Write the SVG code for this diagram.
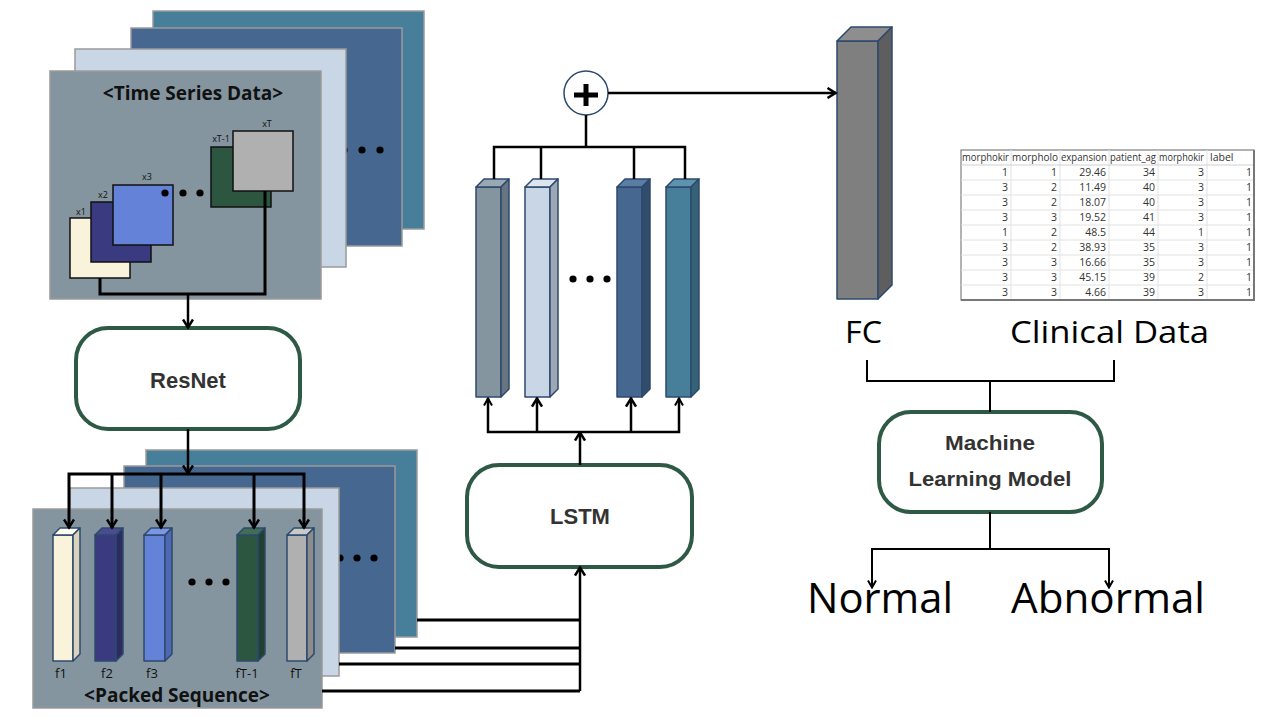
<svg xmlns="http://www.w3.org/2000/svg" width="1277" height="718" viewBox="0 0 1277 718">
<style>
.layer{stroke:#9a9a9a;stroke-width:1.5}
.sq{stroke:#111;stroke-width:1.5}
.bar{stroke:#2C4A6E;stroke-width:1.5;stroke-linejoin:round}
.box{fill:#fff;stroke:#2E5A45;stroke-width:4}
.lbl{font-family:"Liberation Sans",Arial,sans-serif;font-weight:700;fill:#333;text-anchor:middle}
.title{font-family:"Open Sans","Noto Sans",sans-serif;font-weight:700;font-size:19px;fill:#111;text-anchor:middle}
.small{font-family:"Open Sans","Noto Sans",sans-serif;font-size:9px;fill:#111;text-anchor:middle}
.flbl{font-family:"Open Sans","Noto Sans",sans-serif;font-size:13px;fill:#111;text-anchor:middle}
.big{font-family:"Open Sans","Noto Sans",sans-serif;fill:#000}
.c3{fill:none;stroke:#000;stroke-width:3}
.c2{fill:none;stroke:#000;stroke-width:2.5}
.c1{fill:none;stroke:#000;stroke-width:2}
.tb{font-family:"Open Sans","Noto Sans",sans-serif;font-size:10.5px;fill:#333}
.tr{text-anchor:end}
.grid{stroke:#e2e2e2;stroke-width:1}
.dot{fill:#000}
</style>
<defs>
<marker id="a3" viewBox="0 0 12 12" markerUnits="userSpaceOnUse" markerWidth="12" markerHeight="12" refX="10.5" refY="6" orient="auto-start-reverse"><path d="M2,1 L10,6 L2,11" fill="none" stroke="#000" stroke-width="2.5"/></marker>
<marker id="a2" viewBox="0 0 10 10" markerUnits="userSpaceOnUse" markerWidth="10" markerHeight="10" refX="9" refY="5" orient="auto-start-reverse"><path d="M1.5,1 L8.5,5 L1.5,9" fill="none" stroke="#000" stroke-width="2"/></marker>
</defs>

<g id="time-series-stack">
<rect class="layer" x="153" y="11" width="271" height="218" fill="#477F9A"/>
<rect class="layer" x="131" y="28" width="271" height="218" fill="#466890"/>
<circle class="dot" cx="344" cy="150" r="3.6"/><circle class="dot" cx="362" cy="150" r="3.6"/><circle class="dot" cx="380" cy="150" r="3.6"/>
<rect class="layer" x="75" y="49" width="271" height="218" fill="#C9D6E6"/>
<rect class="layer" x="50" y="71" width="271" height="228" fill="#85959F"/>
<text class="title" x="193" y="100">&lt;Time Series Data&gt;</text>
<rect class="sq" x="70" y="218" width="60" height="60" fill="#FAF3DC"/>
<rect class="sq" x="91" y="202" width="60" height="60" fill="#3A3A80"/>
<rect class="sq" x="113" y="185" width="60" height="60" fill="#6482D8"/>
<rect class="sq" x="211" y="147" width="60" height="60" fill="#2D5641"/>
<rect class="sq" x="233" y="131" width="60" height="60" fill="#B0B0B0"/>
<text class="small" x="81" y="215">x1</text>
<text class="small" x="103" y="198">x2</text>
<text class="small" x="147" y="180">x3</text>
<text class="small" x="221" y="142">xT-1</text>
<text class="small" x="267" y="127">xT</text>
<circle class="dot" cx="165" cy="193" r="3.6"/><circle class="dot" cx="183" cy="193" r="3.6"/><circle class="dot" cx="200" cy="193" r="3.6"/>
</g>

<g id="packed-sequence-stack">
<rect class="layer" x="146" y="450" width="271" height="187" fill="#477F9A"/>
<rect class="layer" x="124" y="466" width="271" height="187" fill="#466890"/>
<circle class="dot" cx="340" cy="558" r="3.6"/><circle class="dot" cx="357" cy="558" r="3.6"/><circle class="dot" cx="374" cy="558" r="3.6"/>
<rect class="layer" x="70" y="488" width="269" height="188" fill="#C9D6E6"/>
<rect class="layer" x="33" y="509" width="289" height="199" fill="#85959F"/>
<g id="f1">
<rect class="bar" x="53" y="535" width="20" height="126" fill="#FAF3DC"/>
<path class="bar" d="M53,535 L60,528 L80,528 L73,535 Z" fill="#FFFBEE"/>
<path class="bar" d="M73,535 L80,528 L80,654 L73,661 Z" fill="#D9D2BC"/>
</g>
<g id="f2">
<rect class="bar" x="95" y="535" width="21" height="126" fill="#3A3A80"/>
<path class="bar" d="M95,535 L102,528 L123,528 L116,535 Z" fill="#4B4B92"/>
<path class="bar" d="M116,535 L123,528 L123,654 L116,661 Z" fill="#2C2C62"/>
</g>
<g id="f3">
<rect class="bar" x="144" y="535" width="21" height="126" fill="#6482D8"/>
<path class="bar" d="M144,535 L151,528 L172,528 L165,535 Z" fill="#7B97E3"/>
<path class="bar" d="M165,535 L172,528 L172,654 L165,661 Z" fill="#4E68B4"/>
</g>
<g id="fT-1">
<rect class="bar" x="237" y="535" width="21" height="126" fill="#2D5641"/>
<path class="bar" d="M237,535 L244,528 L265,528 L258,535 Z" fill="#416D57"/>
<path class="bar" d="M258,535 L265,528 L265,654 L258,661 Z" fill="#21402F"/>
</g>
<g id="fT">
<rect class="bar" x="287" y="535" width="20" height="126" fill="#B0B0B0"/>
<path class="bar" d="M287,535 L294,528 L314,528 L307,535 Z" fill="#C9C9C9"/>
<path class="bar" d="M307,535 L314,528 L314,654 L307,661 Z" fill="#8C8C8C"/>
</g>
<circle class="dot" cx="192" cy="582" r="3.6"/><circle class="dot" cx="209" cy="582" r="3.6"/><circle class="dot" cx="226" cy="582" r="3.6"/>
<text class="flbl" x="61" y="678">f1</text>
<text class="flbl" x="107" y="678">f2</text>
<text class="flbl" x="152" y="678">f3</text>
<text class="flbl" x="247" y="678">fT-1</text>
<text class="flbl" x="296" y="678">fT</text>
<text class="title" x="177" y="702">&lt;Packed Sequence&gt;</text>
</g>

<g id="resnet">
<rect class="box" x="76" y="328" width="224" height="101" rx="32"/>
<text class="lbl" x="188" y="388" font-size="22">ResNet</text>
</g>

<g id="lstm">
<rect class="box" x="467" y="465" width="225" height="102" rx="32"/>
<text class="lbl" x="580" y="524" font-size="22">LSTM</text>
</g>

<g id="lstm-outputs">
<g id="h1">
<rect class="bar" x="476" y="187" width="25" height="210" fill="#85959F"/>
<path class="bar" d="M476,187 L484,179 L509,179 L501,187 Z" fill="#9AA8B1"/>
<path class="bar" d="M501,187 L509,179 L509,389 L501,397 Z" fill="#687580"/>
</g>
<g id="h2">
<rect class="bar" x="525" y="187" width="25" height="210" fill="#C9D6E6"/>
<path class="bar" d="M525,187 L533,179 L558,179 L550,187 Z" fill="#DCE5F0"/>
<path class="bar" d="M550,187 L558,179 L558,389 L550,397 Z" fill="#9EA8B4"/>
</g>
<g id="h3">
<rect class="bar" x="617" y="187" width="25" height="210" fill="#466890"/>
<path class="bar" d="M617,187 L625,179 L650,179 L642,187 Z" fill="#5B7DA3"/>
<path class="bar" d="M642,187 L650,179 L650,389 L642,397 Z" fill="#324C6B"/>
</g>
<g id="h4">
<rect class="bar" x="666" y="187" width="25" height="210" fill="#477F9A"/>
<path class="bar" d="M666,187 L674,179 L699,179 L691,187 Z" fill="#5D93AD"/>
<path class="bar" d="M691,187 L699,179 L699,389 L691,397 Z" fill="#356276"/>
</g>
<circle class="dot" cx="573" cy="279" r="3.6"/><circle class="dot" cx="590" cy="279" r="3.6"/><circle class="dot" cx="607" cy="279" r="3.6"/>
</g>

<g id="sum">
<circle cx="586" cy="93" r="22" fill="#fff" stroke="#2C4A6E" stroke-width="1.5"/>
<path d="M574,95 H598 M586,84 V106" stroke="#000" stroke-width="5" fill="none"/>
</g>

<g id="fc">
<rect class="bar" x="837" y="41" width="41" height="258" fill="#7F7F7F"/>
<path class="bar" d="M837,41 L851,27 L892,27 L878,41 Z" fill="#8E8E8E"/>
<path class="bar" d="M878,41 L892,27 L892,285 L878,299 Z" fill="#5E5E5E"/>
<text class="big" x="845" y="343" font-size="31" textLength="37" lengthAdjust="spacingAndGlyphs">FC</text>
</g>

<g id="clinical-data">
<rect x="961" y="150" width="293" height="150" fill="#fff" stroke="#666" stroke-width="1"/>
<g class="grid">
<line x1="1011" y1="150" x2="1011" y2="300"/><line x1="1060" y1="150" x2="1060" y2="300"/><line x1="1109" y1="150" x2="1109" y2="300"/><line x1="1158" y1="150" x2="1158" y2="300"/><line x1="1207" y1="150" x2="1207" y2="300"/>
<line x1="961" y1="165" x2="1254" y2="165" stroke="#cfcfcf"/>
<line x1="961" y1="180" x2="1254" y2="180"/><line x1="961" y1="195" x2="1254" y2="195"/><line x1="961" y1="210" x2="1254" y2="210"/><line x1="961" y1="225" x2="1254" y2="225"/><line x1="961" y1="240" x2="1254" y2="240"/><line x1="961" y1="255" x2="1254" y2="255"/><line x1="961" y1="270" x2="1254" y2="270"/><line x1="961" y1="285" x2="1254" y2="285"/>
</g>
<path d="M1254,150 V300 H961" fill="none" stroke="#777" stroke-width="2"/>
<g class="tb">
<text x="962" y="161" textLength="47" lengthAdjust="spacingAndGlyphs">morphokir</text>
<text x="1012" y="161" textLength="46" lengthAdjust="spacingAndGlyphs">morpholo</text>
<text x="1061" y="161" textLength="46" lengthAdjust="spacingAndGlyphs">expansion</text>
<text x="1110" y="161" textLength="46" lengthAdjust="spacingAndGlyphs">patient_ag</text>
<text x="1159" y="161" textLength="45" lengthAdjust="spacingAndGlyphs">morphokir</text>
<text x="1210" y="161">label</text>
</g>
<g class="tb tr">
<text x="1008" y="176">1</text><text x="1057" y="176">1</text><text x="1106" y="176">29.46</text><text x="1155" y="176">34</text><text x="1204" y="176">3</text><text x="1252" y="176">1</text>
<text x="1008" y="191">3</text><text x="1057" y="191">2</text><text x="1106" y="191">11.49</text><text x="1155" y="191">40</text><text x="1204" y="191">3</text><text x="1252" y="191">1</text>
<text x="1008" y="206">3</text><text x="1057" y="206">2</text><text x="1106" y="206">18.07</text><text x="1155" y="206">40</text><text x="1204" y="206">3</text><text x="1252" y="206">1</text>
<text x="1008" y="221">3</text><text x="1057" y="221">3</text><text x="1106" y="221">19.52</text><text x="1155" y="221">41</text><text x="1204" y="221">3</text><text x="1252" y="221">1</text>
<text x="1008" y="236">1</text><text x="1057" y="236">2</text><text x="1106" y="236">48.5</text><text x="1155" y="236">44</text><text x="1204" y="236">1</text><text x="1252" y="236">1</text>
<text x="1008" y="251">3</text><text x="1057" y="251">2</text><text x="1106" y="251">38.93</text><text x="1155" y="251">35</text><text x="1204" y="251">3</text><text x="1252" y="251">1</text>
<text x="1008" y="266">3</text><text x="1057" y="266">3</text><text x="1106" y="266">16.66</text><text x="1155" y="266">35</text><text x="1204" y="266">3</text><text x="1252" y="266">1</text>
<text x="1008" y="281">3</text><text x="1057" y="281">3</text><text x="1106" y="281">45.15</text><text x="1155" y="281">39</text><text x="1204" y="281">2</text><text x="1252" y="281">1</text>
<text x="1008" y="296">3</text><text x="1057" y="296">3</text><text x="1106" y="296">4.66</text><text x="1155" y="296">39</text><text x="1204" y="296">3</text><text x="1252" y="296">1</text>
</g>
<text class="big" x="1010" y="343" font-size="31" textLength="199" lengthAdjust="spacingAndGlyphs">Clinical Data</text>
</g>

<g id="ml-model">
<rect class="box" x="879" y="412" width="223" height="100" rx="32" stroke-width="3.5"/>
<text class="lbl" x="990" y="450" font-size="21" textLength="90" lengthAdjust="spacingAndGlyphs">Machine</text>
<text class="lbl" x="990" y="486" font-size="21" textLength="163" lengthAdjust="spacingAndGlyphs">Learning Model</text>
</g>

<g id="normal"><text class="big" x="807" y="613" font-size="42" textLength="146" lengthAdjust="spacingAndGlyphs">Normal</text></g>
<g id="abnormal"><text class="big" x="1011" y="613" font-size="42" textLength="194" lengthAdjust="spacingAndGlyphs">Abnormal</text></g>

<g id="connectors">
<path class="c3" d="M100,278 V294 H265 V191"/>
<path class="c2" d="M188,294 V328" marker-end="url(#a3)"/>
<path class="c2" d="M188,429 V474" marker-end="url(#a3)"/>
<path class="c3" d="M69,528 V474 H304 V528" marker-end="url(#a3)" marker-start="url(#a3)"/>
<path class="c3" d="M112,474 V528" marker-end="url(#a3)"/>
<path class="c3" d="M161,474 V528" marker-end="url(#a3)"/>
<path class="c3" d="M254,474 V528" marker-end="url(#a3)"/>
<path class="c3" d="M417,620 H580"/>
<path class="c3" d="M395,648 H580"/>
<path class="c3" d="M339,664 H580"/>
<path class="c3" d="M322,691 H580"/>
<path class="c2" d="M580,691 V567" marker-end="url(#a3)"/>
<path class="c2" d="M580,465 V432" marker-end="url(#a3)"/>
<path class="c2" d="M488,398 V432 H679 V398" marker-start="url(#a2)" marker-end="url(#a2)"/>
<path class="c2" d="M537,432 V398" marker-end="url(#a3)"/>
<path class="c2" d="M631,432 V398" marker-end="url(#a3)"/>
<path class="c2" d="M494,179 V147 H685 V179"/>
<path class="c2" d="M541,147 V179"/>
<path class="c2" d="M634,147 V179"/>
<path class="c2" d="M586,147 V115"/>
<path class="c2" d="M608,93 H836" marker-end="url(#a3)"/>
<path class="c1" d="M867,360 V381 H1114 V360"/>
<path class="c1" d="M990,381 V412"/>
<path class="c1" d="M990,512 V549"/>
<path class="c1" d="M872,588 V549 H1109 V588" marker-start="url(#a2)" marker-end="url(#a2)"/>
</g>
</svg>
